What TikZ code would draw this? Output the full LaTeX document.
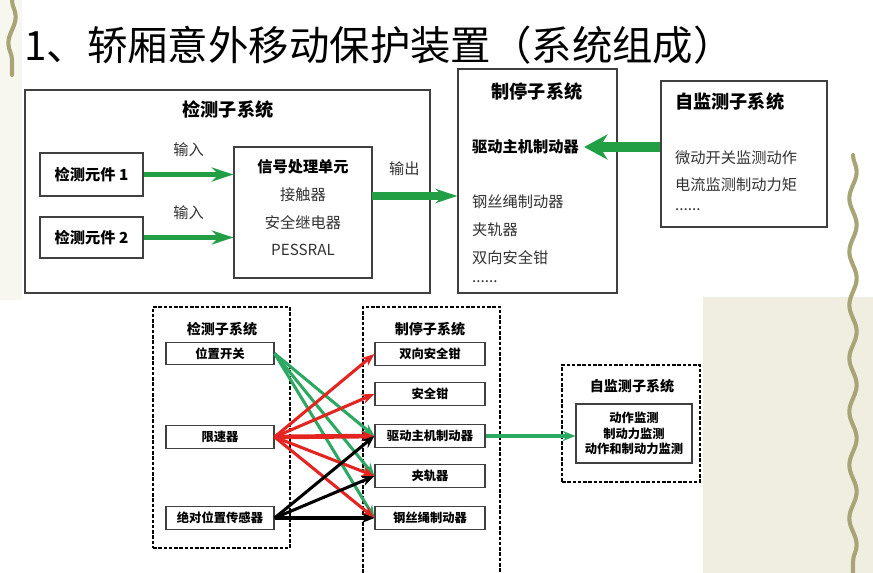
\documentclass[tikz,border=0pt]{standalone}
\usepackage{fontspec}
\setmainfont{Noto Sans CJK SC}
\usepackage{tikz}
\usetikzlibrary{arrows.meta,decorations.pathmorphing}
\definecolor{tgreen}{RGB}{34,158,68}
\definecolor{bgreen}{RGB}{44,168,98}
\definecolor{bred}{RGB}{228,36,32}
\definecolor{beige}{RGB}{236,234,218}
\definecolor{olive}{RGB}{168,164,118}

\begin{document}
\begin{tikzpicture}[x=0.03cm,y=-0.03cm,
  box/.style={draw=black!75,line width=1pt,inner sep=0},
  dbox/.style={draw,line width=1pt,dash pattern=on 3pt off 1.5pt,inner sep=0},
  bigtitle/.style={font=\fontsize{15.5}{18}\selectfont\bfseries},
  item/.style={font=\fontsize{13}{15}\selectfont,text=black!80},
  btitle/.style={font=\fontsize{12}{14}\selectfont\bfseries},
  bitem/.style={box,minimum height=0.68cm,font=\fontsize{10.5}{12.5}\selectfont\bfseries},
  fat/.style={tgreen,-{Stealth[length=0.65cm,width=0.42cm]}},
  thin/.style={line width=2.6pt,-{Stealth[length=0.38cm,width=0.3cm]}},
  squig/.style={olive,line width=3.5pt,line cap=round,decorate,decoration={snake,segment length=1.6cm,amplitude=0.11cm}}]
\useasboundingbox (0,0) rectangle (873,573);
\fill[white] (0,0) rectangle (873,573);
\fill[beige!80] (703,297) rectangle (873,573);
\fill[beige!40] (0,0) rectangle (22,300);
\draw[squig] (853,155) -- (853,573);
\draw[squig] (12,0) -- (12,75);

% title
\node[anchor=west,inner sep=0,font=\fontsize{34.5}{38}\selectfont] (title) at (24,45) {1、轿厢意外移动保护装置（系统组成）};

% upper diagram
\node[box,minimum width=12.15cm,minimum height=6.09cm] (jc) at (227.5,191.5) {};
\node[bigtitle] (jct) at (228,110) {检测子系统};
\node[box,minimum width=3.09cm,minimum height=1.29cm,font=\fontsize{13}{15}\selectfont\bfseries] (jc1) at (91.5,174.5) {检测元件 1};
\node[box,minimum width=3.09cm,minimum height=1.23cm,font=\fontsize{13}{15}\selectfont\bfseries] (jc2) at (91.5,237.5) {检测元件 2};
\node[box,minimum width=4.14cm,minimum height=3.93cm] (xh) at (303,212.5) {};
\node[font=\fontsize{13}{15}\selectfont\bfseries] (xh1) at (303,167) {信号处理单元};
\node[item] (xh2) at (303,195) {接触器};
\node[item] (xh3) at (303,223) {安全继电器};
\node[item] (xh4) at (303,250) {PESSRAL};
\node[box,minimum width=4.77cm,minimum height=6.72cm] (zt) at (537.5,181) {};
\node[bigtitle] (ztt) at (537,92) {制停子系统};
\node[item,anchor=west,inner sep=0,text=black,font=\fontsize{13}{15}\selectfont\bfseries] (qd) at (472,147) {驱动主机制动器};
\node[item,anchor=west,inner sep=0] (gs1) at (472,202) {钢丝绳制动器};
\node[item,anchor=west,inner sep=0] (jg1) at (472,230) {夹轨器};
\node[item,anchor=west,inner sep=0] (sq1) at (472,258) {双向安全钳};
\node[item,anchor=west,inner sep=0] (dd1) at (472,282) {......};
\node[box,minimum width=4.98cm,minimum height=4.38cm] (zj) at (744,154) {};
\node[bigtitle,anchor=west,inner sep=0] (zjt) at (675,102) {自监测子系统};
\node[item,anchor=west,inner sep=0] (zj1) at (675,158) {微动开关监测动作};
\node[item,anchor=west,inner sep=0] (zj2) at (675,185) {电流监测制动力矩};
\node[item,anchor=west,inner sep=0] (zj3) at (675,210) {......};

\coordinate (out) at (372,196);
\draw[fat,line width=4pt] (jc1.east) -- (jc1.east -| xh.west) node[midway,above=0.35cm,item] {输入};
\draw[fat,line width=4pt] (jc2.east) -- (jc2.east -| xh.west) node[midway,above=0.35cm,item] {输入};
\draw[fat,line width=6pt] (out) -- (out -| zt.west) node[pos=0.38,above=0.4cm,item] {输出};
\draw[fat,line width=8pt,-{Stealth[length=0.7cm,width=0.75cm]}] (zj.west |- qd.east) -- ([xshift=0.15cm]qd.east);

% lower diagram
\node[dbox,minimum width=4.11cm,minimum height=7.23cm] (jcb) at (221.5,427.5) {};
\node[btitle] (jcbt) at (222,329) {检测子系统};
\node[bitem,minimum width=3.24cm] (wz) at (220,353.5) {位置开关};
\node[bitem,minimum width=3.24cm] (xs) at (220,437) {限速器};
\node[bitem,minimum width=3.24cm] (jd) at (220,518) {绝对位置传感器};
\draw[line width=1pt,dash pattern=on 3pt off 1.5pt] (363,573) |- (500,307) -- (500,573);
\node[btitle] (ztbt) at (430,329) {制停子系统};
\node[bitem,minimum width=3.3cm] (sq) at (430,354) {双向安全钳};
\node[bitem,minimum width=3.3cm] (aq) at (430,394) {安全钳};
\node[bitem,minimum width=3.3cm] (qz) at (430,436) {驱动主机制动器};
\node[bitem,minimum width=3.3cm] (jg) at (430,476) {夹轨器};
\node[bitem,minimum width=3.3cm] (gs) at (430,518) {钢丝绳制动器};
\node[dbox,minimum width=4.14cm,minimum height=3.51cm] (zjb) at (631,423.5) {};
\node[btitle] (zjbt) at (632,386) {自监测子系统};
\node[box,minimum width=3.48cm,minimum height=1.77cm,align=center,font=\fontsize{10.5}{13.5}\selectfont\bfseries] (zb) at (634,433.5) {动作监测\\制动力监测\\动作和制动力监测};

\draw[thin,bgreen] (wz.east) -- (qz.west);
\draw[thin,bgreen] (wz.east) -- (jg.west);
\draw[thin,bgreen] (wz.east) -- (gs.west);
\draw[thin,bred] (xs.east) -- (sq.west);
\draw[thin,bred] (xs.east) -- (aq.west);
\draw[thin,bred,line width=4pt] (xs.east) -- (qz.west);
\draw[thin,bred] (xs.east) -- (jg.west);
\draw[thin,bred] (xs.east) -- (gs.west);
\draw[thin] (jd.east) -- (qz.west);
\draw[thin] (jd.east) -- (jg.west);
\draw[thin,line width=4pt] (jd.east) -- (gs.west);
\draw[thin,bgreen] (qz.east) -- (qz.east -| zb.west);
\end{tikzpicture}
\end{document}
